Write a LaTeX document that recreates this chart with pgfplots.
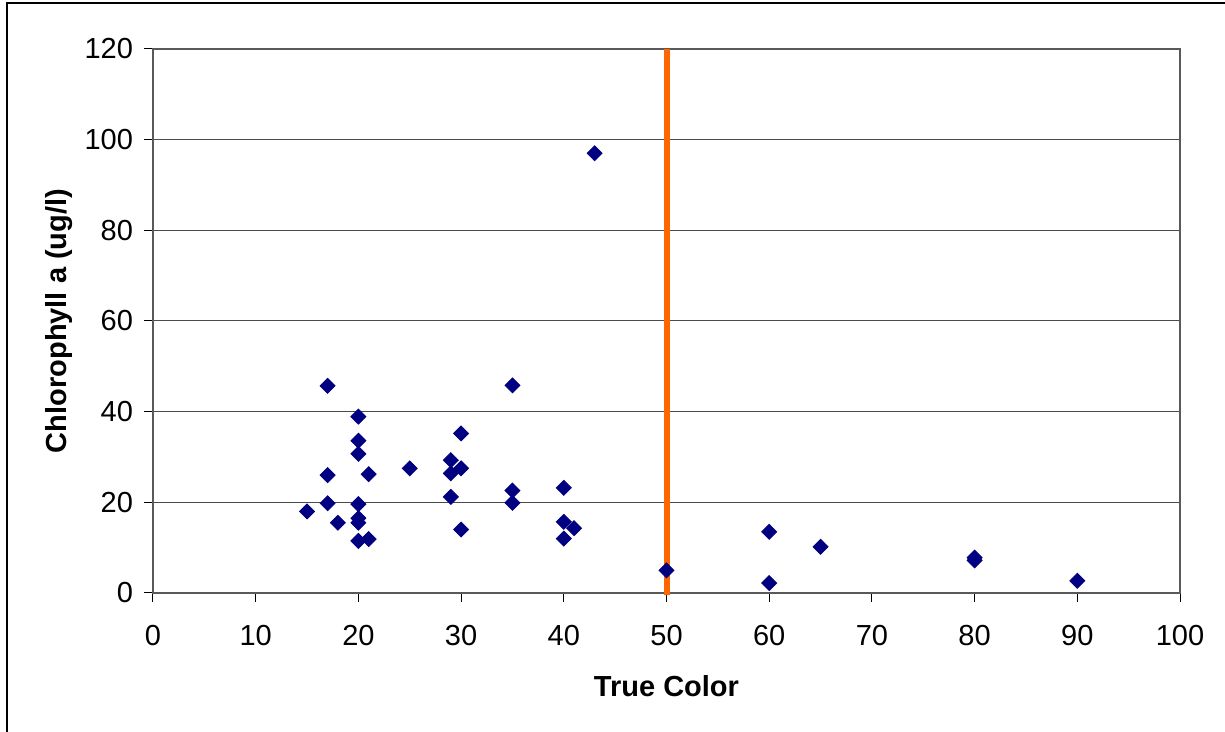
\documentclass[border=0pt]{standalone}
\usepackage{pgfplots}
\pgfplotsset{compat=1.18}
\usepackage{fontspec}
\setmainfont{Liberation Sans}
\definecolor{navy}{HTML}{000080}
\definecolor{orng}{HTML}{FF6600}
\begin{document}
\begin{tikzpicture}
\useasboundingbox (-76.5pt,-69.5pt) rectangle (536pt,296.5pt);
\draw[black, line width=0.8pt] (-73pt,-75pt) -- (-73pt,295pt) -- (545pt,295pt);
\begin{axis}[
  at={(0,0)}, anchor=south west,
  scale only axis, width=513.5pt, height=272pt,
  xmin=0, xmax=100, ymin=0, ymax=120,
  xtick={0,10,...,100}, ytick={0,20,...,120},
  xtick pos=bottom, ytick pos=left,
  tick align=outside, major tick length=4.5pt,
  tick style={black, line width=0.5pt},
  axis line style={draw=gray!70!black, line width=0.7pt},
  ymajorgrids, grid style={draw=gray!60!black, line width=0.5pt},
  /pgf/number format/assume math mode=true,
  tick label style={font=\fontsize{14.5}{17}\selectfont},
  xticklabel style={yshift=-8pt},
  yticklabel style={xshift=-2pt},
  xlabel={\textbf{True Color}}, ylabel={\textbf{Chlorophyll a (ug/l)}},
  label style={font=\fontsize{14.5}{17}\selectfont},
  xlabel style={yshift=-8pt},
  ylabel style={yshift=-1pt},
  clip=false,
]
\addplot[only marks, mark=square*, mark size=2.65pt, mark options={rotate=45, fill=navy, draw=navy}] coordinates {
(17,45.7) (20,38.9) (20,33.6) (20,30.7) (17,26.0) (21,26.2) (25,27.5)
(29,29.3) (30,35.2) (30,27.5) (29,26.4) (29,21.2) (35,45.8) (35,22.6)
(35,19.9) (40,23.2) (40,15.7) (41,14.3) (40,12.0) (30,14.0) (15,18.0)
(17,19.8) (18,15.5) (20,19.6) (20,16.5) (20,15.5) (20,11.5) (21,11.9)
(43,97) (50,5) (60,13.5) (60,2.2) (65,10.2) (80,7.8) (80,7.2) (90,2.7)
};
\addplot[orng, line width=3pt] coordinates {(50,-0.5) (50,120)};
\end{axis}
\end{tikzpicture}
\end{document}
